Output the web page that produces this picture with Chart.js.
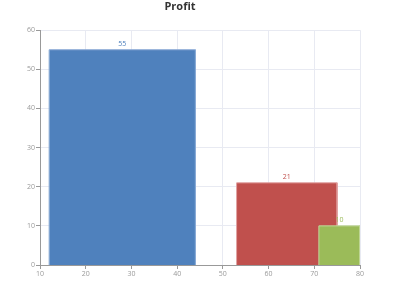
<!DOCTYPE html>
<html><head><meta charset="utf-8">
<script src="https://cdn.jsdelivr.net/npm/chart.js@4/dist/chart.umd.min.js"></script>
<style>html,body{margin:0;padding:0;background:#fff}#wrap{width:400px;height:300px}</style>
</head><body><div id="wrap"><canvas id="c" width="400" height="300"></canvas></div>
<script>
const categories = ['A', 'B', 'C'];
const xStart = [12, 53, 71];
const xEnd = [44, 75, 80];
const profit = [55, 21, 10];
const xTicks = [10, 20, 30, 40, 50, 60, 70, 80];
const yTicks = [0, 10, 20, 30, 40, 50, 60];

const fills = ['#4f81bd', '#c0504d', '#9bbb59'];
const borders = ['#8aaad6', '#e0a0a0', '#c2d89c'];

const datasets = categories.map((c, i) => ({
  label: c,
  order: categories.length - i,
  data: [
    {x: xStart[i], y: 0}, {x: xStart[i], y: profit[i]},
    {x: xEnd[i], y: profit[i]}, {x: xEnd[i], y: 0}
  ],
  backgroundColor: fills[i],
  borderColor: borders[i],
  borderWidth: 1,
  fill: 'origin',
  pointRadius: 0,
  tension: 0,
  showLine: true
}));

const labelPlugin = {
  id: 'barLabels',
  afterDatasetsDraw(chart) {
    const ctx = chart.ctx, xs = chart.scales.x, ys = chart.scales.y;
    ctx.save();
    ctx.font = '7px "Open Sans", sans-serif';
    ctx.textAlign = 'center';
    ctx.textBaseline = 'bottom';
    categories.forEach((c, i) => {
      ctx.fillStyle = fills[i];
      const px = xs.getPixelForValue((xStart[i] + xEnd[i]) / 2);
      const py = ys.getPixelForValue(profit[i]);
      ctx.fillText(String(profit[i]), px, py - 2);
    });
    ctx.restore();
  }
};

new Chart(document.getElementById('c'), {
  type: 'line',
  data: {datasets},
  plugins: [labelPlugin],
  options: {
    responsive: false,
    animation: false,
    layout: {padding: {left: 0, right: 40, top: 0, bottom: 0}},
    plugins: {
      legend: {display: false},
      tooltip: {enabled: false},
      title: {display: true, text: 'Profit', color: '#333',
        font: {family: '"Open Sans", sans-serif', size: 11, weight: 'bold'},
        padding: {top: 0, bottom: 17}}
    },
    scales: {
      x: {
        type: 'linear', min: 10, max: 80,
        afterBuildTicks: s => { s.ticks = xTicks.map(v => ({value: v})); },
        afterFit: s => { s.height = 35; },
        grid: {color: '#e8eaf2', tickColor: '#999', tickLength: 4, drawTicks: true},
        border: {color: '#999'},
        ticks: {color: '#999', font: {family: '"Open Sans", sans-serif', size: 7}, padding: 1, maxRotation: 0}
      },
      y: {
        type: 'linear', min: 0, max: 60,
        afterBuildTicks: s => { s.ticks = yTicks.map(v => ({value: v})); },
        afterFit: s => { s.width = 40; },
        grid: {color: '#e8eaf2', tickColor: '#999', tickLength: 4},
        border: {color: '#999'},
        ticks: {color: '#999', font: {family: '"Open Sans", sans-serif', size: 7}, padding: 1}
      }
    }
  }
});
</script></body></html>
